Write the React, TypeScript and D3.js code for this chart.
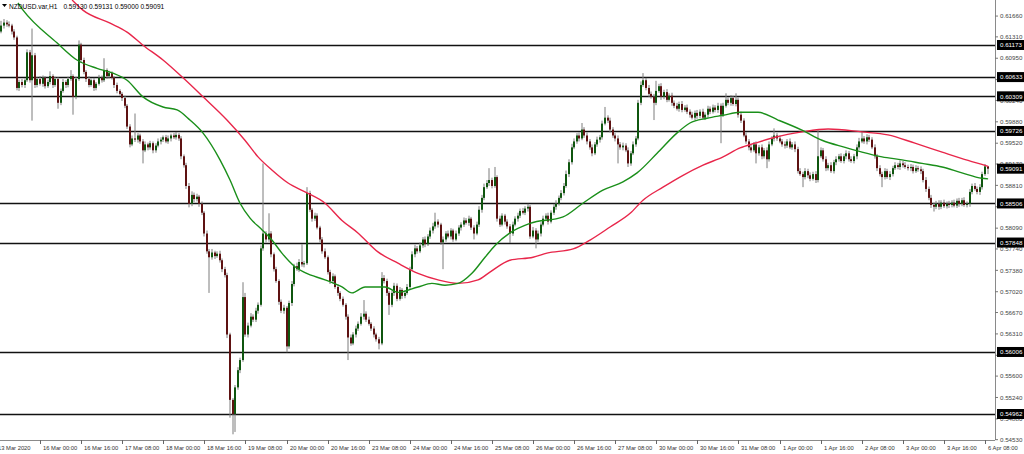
import React from "react";
import * as d3 from "d3";

// ---------- DATA ----------
const symbolTitle = "NZDUSD.var,H1";
const lastOHLC = [0.5913, 0.59131, 0.59, 0.59091];
const firstOpen = 6145; // price × 10000

// hourly closes (price × 10000), bar 0 = 13 Mar 08:00
const closes = [
  6140, 6150, 6155, 6152, 6150, 6140, 6130, 6045, 6055, 6050,
  6058, 6105, 6058, 6100, 6050, 6060, 6052, 6062, 6048, 6055,
  6065, 6050, 6060, 6020, 6040, 6055, 6050, 6060, 6065, 6030,
  6060, 6118, 6092, 6072, 6060, 6050, 6058, 6045, 6052, 6062,
  6058, 6075, 6065, 6070, 6062, 6050, 6040, 6035, 6028, 6015,
  5980, 5950, 5960, 5958, 5965, 5955, 5940, 5950, 5945, 5952,
  5940, 5948, 5955, 5958, 5962, 5955, 5960, 5965, 5962, 5966,
  5960, 5930, 5915, 5880, 5850, 5865, 5858, 5862, 5850, 5835,
  5800, 5770, 5760, 5768, 5762, 5766, 5755, 5740, 5730, 5630,
  5520, 5496, 5541, 5570, 5587, 5693, 5630, 5645, 5660, 5655,
  5670, 5680, 5775, 5800, 5790, 5800, 5765, 5740, 5720, 5685,
  5670, 5675, 5610, 5683, 5715, 5745, 5740, 5752, 5748, 5750,
  5868, 5840, 5825, 5830, 5810, 5790, 5770, 5760, 5735, 5720,
  5728, 5710, 5700, 5690, 5680, 5660, 5625, 5615, 5630, 5640,
  5648, 5660, 5665, 5655, 5648, 5640, 5630, 5622, 5615, 5725,
  5720, 5700, 5680, 5700, 5712, 5690, 5705, 5695, 5700, 5710,
  5740, 5765, 5775, 5770, 5780, 5790, 5782, 5795, 5805, 5812,
  5820, 5815, 5785, 5790, 5800, 5795, 5805, 5790, 5800, 5810,
  5815, 5822, 5818, 5825, 5810, 5800, 5815, 5840, 5860, 5878,
  5885, 5890, 5880, 5895, 5825, 5815, 5830, 5820, 5812, 5800,
  5815, 5825, 5830, 5838, 5835, 5842, 5845, 5795, 5805, 5790,
  5800, 5815, 5825, 5830, 5820, 5835, 5845, 5850, 5860, 5868,
  5880, 5900, 5920, 5945, 5955, 5965, 5960, 5975, 5965, 5955,
  5945, 5935, 5950, 5958, 5962, 5985, 5995, 5990, 5975, 5965,
  5960, 5950, 5945, 5948, 5940, 5918, 5935, 5950, 5960, 6020,
  6050, 6058, 6045, 6035, 6030, 6020, 6040, 6048, 6030, 6038,
  6025, 6032, 6020, 6015, 6010, 6018, 6008, 6012, 6005, 6000,
  5995, 6003, 5998, 6005, 5995, 6000, 6010, 6005, 6012, 6008,
  6015, 6000, 6015, 6025, 6020, 6028, 6018, 6025, 6000, 5990,
  5965, 5955, 5945, 5940, 5950, 5935, 5945, 5930, 5940, 5925,
  5950, 5960, 5965, 5960, 5955, 5950, 5948, 5955, 5945, 5950,
  5942, 5905, 5900, 5895, 5905, 5898, 5892, 5900, 5890, 5930,
  5940, 5925, 5910, 5915, 5905, 5920, 5925, 5930, 5922, 5930,
  5935, 5925, 5922, 5930, 5945, 5955, 5960, 5955, 5962, 5958,
  5945, 5930, 5910, 5900, 5895, 5905, 5895, 5900, 5910, 5915,
  5912, 5918, 5915, 5912, 5910, 5912, 5905, 5910, 5908, 5905,
  5890, 5875, 5860, 5848, 5845, 5850, 5845, 5852, 5846, 5850,
  5848, 5852, 5847, 5855, 5850, 5856, 5848, 5850, 5870, 5880,
  5875, 5870, 5878, 5900, 5913, 5909.1,
];

// upper wick above body (pips)
const wickUp = [
  5, 8, 6, 4, 5, 3, 4, 3, 4, 5,
  3, 5, 4, 45, 4, 3, 5, 4, 3, 4,
  8, 3, 4, 3, 4, 5, 3, 4, 10, 3,
  4, 7, 3, 4, 3, 5, 3, 4, 3, 5,
  4, 20, 3, 4, 3, 3, 4, 3, 3, 4,
  3, 4, 5, 42, 4, 3, 4, 5, 3, 4,
  3, 4, 5, 4, 3, 4, 5, 3, 4, 5,
  3, 4, 3, 4, 5, 6, 4, 5, 3, 4,
  3, 5, 4, 6, 3, 4, 5, 3, 4, 4,
  3, 3, 4, 5, 4, 25, 7, 5, 6, 4,
  5, 4, 5, 118, 4, 34, 4, 3, 4, 3,
  4, 5, 3, 4, 5, 4, 6, 5, 30, 4,
  10, 4, 3, 5, 4, 3, 4, 5, 3, 4,
  5, 3, 4, 3, 4, 3, 4, 5, 4, 5,
  4, 6, 23, 4, 5, 3, 4, 3, 4, 10,
  5, 4, 3, 4, 5, 4, 5, 3, 4, 5,
  4, 5, 6, 4, 5, 4, 5, 4, 5, 6,
  15, 4, 3, 5, 4, 5, 4, 3, 5, 4,
  4, 5, 4, 5, 3, 4, 5, 6, 5, 6,
  5, 20, 4, 17, 3, 5, 4, 3, 4, 4,
  5, 4, 5, 4, 5, 4, 5, 3, 6, 4,
  5, 4, 5, 4, 5, 4, 5, 6, 4, 5,
  5, 6, 5, 6, 5, 4, 5, 11, 4, 5,
  4, 5, 4, 5, 4, 5, 18, 4, 5, 4,
  4, 5, 4, 5, 4, 5, 4, 5, 4, 5,
  6, 12, 4, 5, 4, 5, 17, 4, 5, 4,
  5, 4, 5, 4, 5, 4, 5, 4, 5, 4,
  5, 4, 5, 4, 5, 4, 5, 4, 5, 4,
  5, 4, 5, 11, 4, 5, 4, 11, 4, 5,
  4, 5, 4, 5, 4, 5, 4, 5, 4, 5,
  5, 4, 12, 4, 5, 4, 5, 4, 5, 4,
  5, 4, 5, 4, 5, 4, 5, 4, 5, 44,
  5, 4, 5, 4, 5, 4, 5, 4, 5, 4,
  5, 4, 5, 4, 5, 6, 11, 4, 5, 4,
  4, 5, 4, 5, 4, 5, 4, 5, 4, 5,
  4, 5, 4, 5, 4, 5, 4, 5, 4, 5,
  4, 5, 4, 5, 4, 5, 6, 4, 5, 4,
  5, 4, 5, 4, 5, 4, 5, 4, 5, 4,
  5, 4, 5, 4, 4, 0.1,
];

// lower wick below body (pips)
const wickDn = [
  4, 3, 5, 4, 3, 5, 4, 4, 5, 4,
  5, 3, 4, 68, 5, 4, 3, 5, 4, 3,
  4, 5, 3, 10, 4, 3, 5, 4, 3, 30,
  4, 3, 5, 4, 5, 4, 3, 5, 4, 3,
  4, 3, 5, 4, 3, 5, 4, 3, 5, 4,
  4, 5, 3, 4, 5, 4, 22, 3, 5, 4,
  5, 4, 3, 5, 4, 3, 4, 5, 3, 4,
  4, 5, 4, 5, 6, 4, 5, 4, 5, 4,
  5, 4, 60, 4, 5, 3, 4, 5, 4, 6,
  30, 34, 30, 4, 5, 3, 4, 5, 3, 4,
  4, 5, 3, 4, 5, 4, 5, 4, 3, 5,
  4, 5, 10, 4, 5, 4, 3, 5, 4, 5,
  3, 4, 5, 4, 3, 5, 4, 3, 4, 5,
  4, 3, 5, 4, 3, 5, 38, 4, 3, 5,
  4, 3, 5, 4, 3, 4, 5, 4, 10, 3,
  4, 5, 17, 4, 5, 4, 3, 5, 4, 3,
  4, 3, 5, 4, 3, 4, 5, 3, 4, 5,
  4, 5, 4, 45, 4, 3, 5, 4, 3, 4,
  5, 4, 3, 5, 4, 10, 3, 4, 5, 4,
  3, 5, 4, 3, 5, 4, 3, 5, 4, 16,
  4, 3, 5, 4, 3, 4, 5, 4, 3, 15,
  4, 5, 3, 4, 5, 3, 4, 5, 3, 4,
  4, 3, 5, 4, 3, 4, 5, 3, 4, 5,
  4, 5, 3, 4, 5, 4, 3, 4, 5, 4,
  5, 32, 4, 5, 3, 6, 4, 3, 4, 3,
  4, 3, 4, 5, 3, 29, 4, 3, 5, 4,
  4, 3, 5, 4, 3, 5, 4, 3, 4, 5,
  3, 4, 5, 4, 3, 4, 5, 4, 3, 4,
  5, 48, 4, 3, 4, 5, 3, 4, 5, 4,
  3, 4, 5, 4, 3, 17, 4, 5, 4, 15,
  4, 3, 5, 4, 3, 4, 5, 4, 3, 4,
  5, 4, 3, 17, 4, 5, 4, 3, 5, 4,
  3, 4, 5, 4, 3, 4, 5, 4, 3, 4,
  5, 4, 3, 4, 5, 4, 3, 4, 5, 4,
  3, 4, 5, 4, 17, 4, 3, 5, 4, 3,
  4, 5, 4, 3, 4, 5, 4, 3, 4, 5,
  4, 5, 4, 5, 8, 4, 5, 4, 3, 4,
  5, 4, 3, 4, 5, 4, 3, 4, 5, 4,
  3, 4, 5, 4, 3, 9.1,
];

// moving averages: [bar index, price×10000]
const maGreen = [
  [7.4, 6188], [9.4, 6176], [22.6, 6121], [30.4, 6092], [38.2, 6078], [44.4, 6070],
  [49.9, 6058], [56.1, 6030], [63.9, 6013], [69.4, 6008], [74.4, 5991], [79.5, 5969],
  [86.1, 5924], [90, 5890], [93.9, 5851], [97.8, 5826], [102.5, 5806], [106.3, 5789],
  [110.2, 5767], [115.3, 5744], [119.2, 5734], [127, 5722], [133.6, 5710], [137.5, 5700],
  [142.6, 5710], [150.4, 5710], [155.4, 5701], [163.2, 5710], [168.6, 5716], [173.7, 5713],
  [178.8, 5716], [184.2, 5733], [189.3, 5760], [193.2, 5780], [199, 5801], [206.8, 5817],
  [219.7, 5828], [227.4, 5851], [235.2, 5873], [243, 5887], [248.5, 5902], [256.3, 5935],
  [264, 5969], [269.1, 5986], [275.7, 5994], [282, 5999], [288.6, 6004], [295.6, 6004],
  [303.4, 5991], [312.7, 5974], [320.5, 5957], [329.5, 5945], [336.1, 5937], [343.9, 5929],
  [351.7, 5924], [359.5, 5918], [367.3, 5912], [375, 5902], [382.8, 5893], [385.2, 5892],
];
const maRed = [
  [28.5, 6193], [32.7, 6176], [43.3, 6154], [49.9, 6139], [56.1, 6117], [63.9, 6092],
  [71.7, 6062], [79.5, 6030], [88.8, 5991], [95.8, 5957], [100.9, 5929], [106.3, 5907],
  [112.6, 5885], [119.2, 5870], [127, 5851], [133.6, 5822], [139.8, 5801], [147.6, 5769],
  [155.4, 5750], [163.2, 5733], [171, 5722], [178.8, 5716], [186.6, 5722], [191.2, 5735],
  [199, 5755], [208, 5760], [213.4, 5767], [223.6, 5774], [230.2, 5789], [238, 5811],
  [245.8, 5834], [250.8, 5856], [258.6, 5878], [266.4, 5898], [274.2, 5915], [282, 5929],
  [288.6, 5944], [294.4, 5952], [302.2, 5962], [312.7, 5971], [322.9, 5976], [336.1, 5971],
  [346.2, 5966], [356.7, 5952], [367.3, 5937], [377.4, 5923], [385.2, 5913],
];

const levels = [0.61173, 0.60633, 0.60309, 0.59726, 0.58506, 0.57848, 0.56006, 0.54962];
const priceTicks = [
  0.6166, 0.6131, 0.6095, 0.6059, 0.6024, 0.5988, 0.5952, 0.5917, 0.5881, 0.5845,
  0.5809, 0.5774, 0.5738, 0.5702, 0.5667, 0.5631, 0.5595, 0.556, 0.5524, 0.5488, 0.5453,
];
const timeLabels = [
  "13 Mar 2020", "16 Mar 00:00", "16 Mar 16:00", "17 Mar 08:00", "18 Mar 00:00",
  "18 Mar 16:00", "19 Mar 08:00", "20 Mar 00:00", "20 Mar 16:00", "23 Mar 08:00",
  "24 Mar 00:00", "24 Mar 16:00", "25 Mar 08:00", "26 Mar 00:00", "26 Mar 16:00",
  "27 Mar 08:00", "30 Mar 00:00", "30 Mar 16:00", "31 Mar 08:00", "1 Apr 00:00",
  "1 Apr 16:00", "2 Apr 08:00", "3 Apr 00:00", "3 Apr 16:00", "6 Apr 08:00",
];
const timeLabelBars = [
  0, 16, 32, 48, 64, 80, 96, 112, 128, 144, 160, 176, 192, 208, 224, 240, 256, 272,
  288, 304, 320, 336, 352, 368, 384,
];

// ---------- CHART ----------
const W = 1024;
const H = 454;
const PLOT_R = 995;
const PLOT_B = 440;
const PIP = 10000;

export default function App() {
  const x = d3.scaleLinear().domain([0, 385]).range([-1.1, 987.6]);
  const y = d3.scaleLinear().domain([0.54962, 0.61173]).range([414, 45]);

  const bars = closes.map((c, i) => {
    const o = (i === 0 ? firstOpen : closes[i - 1]) / PIP;
    const cl = c / PIP;
    const top = Math.max(o, cl);
    const bot = Math.min(o, cl);
    return { i, o, c: cl, h: top + wickUp[i] / PIP, l: bot - wickDn[i] / PIP };
  });

  const line = d3
    .line<number[]>()
    .x((d) => x(d[0]))
    .y((d) => y(d[1] / PIP))
    .curve(d3.curveMonotoneX);

  const font = "'Liberation Sans', Arial, sans-serif";
  const lastPrice = bars[bars.length - 1].c;
  const boxes = [...levels, lastPrice];
  // tick labels entirely covered by a price box are not visible in the terminal
  const visibleTicks = priceTicks.filter(
    (t) => !boxes.some((b) => Math.abs(y(t) - y(b)) < 3.5)
  );

  return (
    <svg
      width={W}
      height={H}
      style={{ position: "fixed", left: 0, top: 0, background: "#fff" }}
      fontFamily={font}
    >
      <defs>
        <clipPath id="plot">
          <rect x={0} y={0} width={PLOT_R} height={PLOT_B} />
        </clipPath>
      </defs>
      <rect x={0} y={0} width={W} height={H} fill="#fff" />

      <g clipPath="url(#plot)">
        {levels.map((lv) => (
          <line
            key={lv}
            x1={0}
            x2={PLOT_R}
            y1={Math.round(y(lv)) + 0.5}
            y2={Math.round(y(lv)) + 0.5}
            stroke="#111"
            strokeWidth={1.6}
          />
        ))}

        {bars.map((b) => {
          const cx = Math.round(x(b.i));
          const yt = y(Math.max(b.o, b.c));
          const yb = y(Math.min(b.o, b.c));
          const up = b.c >= b.o;
          return (
            <g key={b.i}>
              <line x1={cx} x2={cx} y1={y(b.h)} y2={y(b.l)} stroke="#7d7d7d" strokeWidth={1} />
              <rect
                x={cx - 1}
                y={yt}
                width={2}
                height={Math.max(1, yb - yt)}
                fill={up ? "#0f560f" : "#5e1212"}
              />
            </g>
          );
        })}

        <path d={line(maRed as number[][]) || ""} fill="none" stroke="#e8264a" strokeWidth={1.4} />
        <path d={line(maGreen as number[][]) || ""} fill="none" stroke="#1a8f1a" strokeWidth={1.4} />
      </g>

      {/* axes */}
      <line x1={PLOT_R + 0.5} x2={PLOT_R + 0.5} y1={0} y2={PLOT_B} stroke="#8a8a8a" strokeWidth={1} />
      <line x1={0} x2={PLOT_R} y1={PLOT_B + 0.5} y2={PLOT_B + 0.5} stroke="#8a8a8a" strokeWidth={1} />

      {priceTicks.map((t) => (
        <line key={"tk" + t} x1={PLOT_R} x2={PLOT_R + 3} y1={y(t)} y2={y(t)} stroke="#777" />
      ))}
      {visibleTicks.map((t) => (
        <text key={t} x={1000} y={y(t) + 2.2} fontSize={6.2} fill="#444">
          {t.toFixed(5)}
        </text>
      ))}

      {timeLabels.map((lab, k) => {
        const tx = Math.round(x(timeLabelBars[k]));
        return (
          <g key={lab}>
            <line x1={tx + 0.5} x2={tx + 0.5} y1={PLOT_B} y2={PLOT_B + 4} stroke="#666" />
            <text x={k === 0 ? tx - 1 : tx + 3} y={PLOT_B + 10} fontSize={5.8} fill="#333">
              {lab}
            </text>
          </g>
        );
      })}

      {boxes.map((lv) => (
        <g key={"lab" + lv}>
          <rect x={PLOT_R + 2} y={y(lv) - 5} width={W - PLOT_R - 2} height={10} fill="#000" />
          <text x={1000} y={y(lv) + 2.2} fontSize={6.2} fill="#fff">
            {lv.toFixed(5)}
          </text>
        </g>
      ))}

      {/* header */}
      <path d="M2,4 L7,4 L4.5,7 Z" fill="#000" />
      <text x={9} y={8.5} fontSize={6.6} fill="#000">
        {symbolTitle}
        <tspan dx={6}>{lastOHLC.map((v) => v.toFixed(5)).join(" ")}</tspan>
      </text>
    </svg>
  );
}
